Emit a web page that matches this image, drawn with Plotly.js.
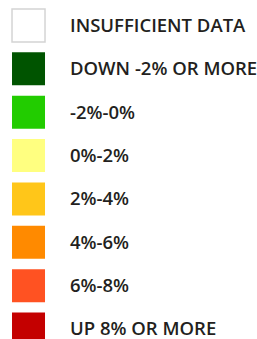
<!DOCTYPE html>
<html><head><meta charset="utf-8">
<script src="https://cdn.plot.ly/plotly-3.0.1.min.js"></script>
<style>html,body{margin:0;padding:0;background:#fff;}#chart{width:257px;height:339px;}</style>
</head><body><div id="chart"></div>
<script>
const labels = ["INSUFFICIENT DATA","DOWN -2% OR MORE","-2%-0%","0%-2%","2%-4%","4%-6%","6%-8%","UP 8% OR MORE"];
const colors = ["#ffffff","#005400","#22cc00","#ffff80","#ffc619","#ff8a00","#ff5222","#c40000"];
const rows = labels.map((_, i) => i);

const swatches = {
  type: 'scatter', mode: 'markers',
  x: rows.map(() => 0), y: rows,
  marker: {symbol: 'square', size: 33, color: colors,
    line: {color: '#d4d4d4', width: rows.map(i => i === 0 ? 1.5 : 0)}},
  hoverinfo: 'skip', showlegend: false
};
const texts = {
  type: 'scatter', mode: 'text',
  x: rows.map(() => 1), y: rows.map(i => i + 0.04), text: labels,
  textposition: 'middle right',
  textfont: {family: 'Open Sans', size: 18.5, weight: 600, color: '#231f20'},
  hoverinfo: 'skip', showlegend: false
};
Plotly.newPlot('chart', [swatches, texts], {
  width: 257, height: 339,
  margin: {l: 0, r: 0, t: 0, b: 0},
  paper_bgcolor: '#fff', plot_bgcolor: '#fff',
  xaxis: {range: [-0.687, 5.506], visible: false, fixedrange: true},
  yaxis: {range: [7.23, -0.588], visible: false, fixedrange: true}
}, {staticPlot: true});
</script></body></html>
